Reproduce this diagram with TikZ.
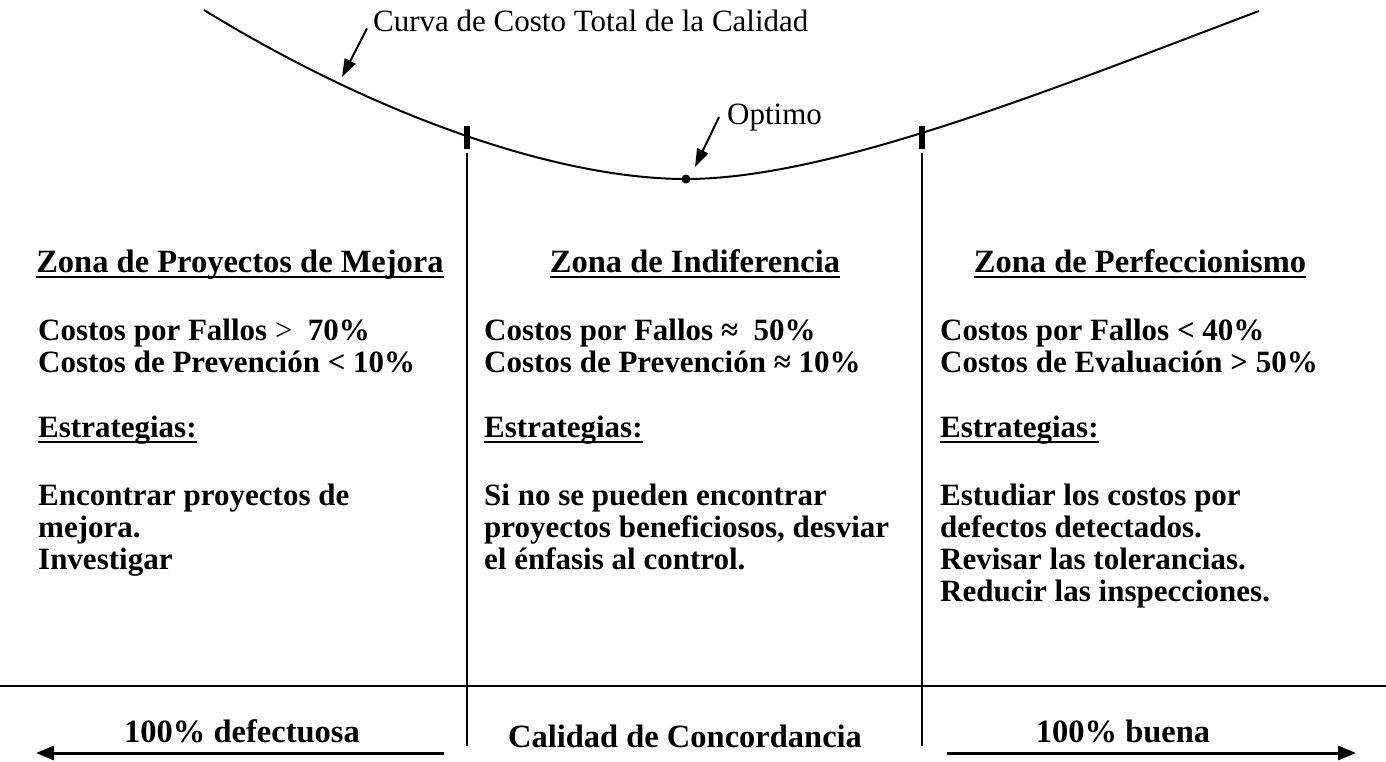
\documentclass[tikz,border=0pt]{standalone}
\usepackage{fontspec}
\setmainfont{Liberation Serif}
\usetikzlibrary{arrows.meta}

\tikzset{
  zonetext/.style={font=\fontsize{31}{33}\selectfont\bfseries, inner sep=0pt, anchor=base west},
  zonehead/.style={font=\fontsize{32.5}{34}\selectfont\bfseries, inner sep=0pt, anchor=base},
  curvelabel/.style={font=\fontsize{31}{33}\selectfont, inner sep=0pt, anchor=base west},
  pointer/.style={line width=2pt, -{Triangle[length=18pt,width=12pt]}},
  axisarrow/.style={line width=3pt, -{Triangle[length=18pt,width=14pt]}},
  zonetick/.style={line width=6pt},
  zoneline/.style={line width=2.5pt},
}

\begin{document}
\begin{tikzpicture}[x=1pt,y=-1pt]
\pgfmathsetmacro{\XL}{38}
\pgfmathsetmacro{\XM}{484}
\pgfmathsetmacro{\XR}{940}
\pgfmathsetmacro{\LS}{32}
\useasboundingbox (0,0) rectangle (1386,761);

\draw[line width=2pt] (204,10) .. controls (380,118) and (560,179) .. (686,179)
  .. controls (830,179) and (1050,90) .. (1259,11);
\fill (686,179) circle (4.5);

\coordinate (curvept) at (342,77);
\coordinate (optpt) at (695,167);
\node[curvelabel] (curvelbl) at (373,31) {Curva de Costo Total de la Calidad};
\node[curvelabel] (optlbl) at (727,124) {Optimo};
\draw[pointer] (curvelbl.west) ++(-6,8) coordinate (curvestart) (curvestart) -- (curvept);
\draw[pointer] (optlbl.west) ++(-8,0) coordinate (optstart) (optstart) -- (optpt);

\foreach \x in {467,922} {
  \draw[zonetick] (\x,126) -- (\x,149);
  \draw[line width=1.5pt] (\x,153) -- (\x,746);
}
\draw[line width=1.5pt] (0,686) -- (1386,686);

\node[zonehead] (lefthead) at (240,272) {Zona de Proyectos de Mejora};
\node[zonehead] (midhead) at (695,272) {Zona de Indiferencia};
\node[zonehead] (righthead) at (1140,272) {Zona de Perfeccionismo};

\node[zonetext] (leftcost1) at (\XL,340) {Costos por Fallos {\mdseries >}\ \ 70\%};
\node[zonetext] (leftcost2) at (\XL,340+\LS) {Costos de Prevención < 10\%};
\node[zonetext] (midcost1) at (\XM,340) {Costos por Fallos ≈\ \ 50\%};
\node[zonetext] (midcost2) at (\XM,340+\LS) {Costos de Prevención ≈ 10\%};
\node[zonetext] (rightcost1) at (\XR,340) {Costos por Fallos < 40\%};
\node[zonetext] (rightcost2) at (\XR,340+\LS) {Costos de Evaluación > 50\%};

\node[zonetext] (leftest) at (\XL,437) {Estrategias:};
\node[zonetext] (midest) at (\XM,437) {Estrategias:};
\node[zonetext] (rightest) at (\XR,437) {Estrategias:};

\foreach \n in {lefthead,midhead,righthead,leftest,midest,rightest}
  \draw[zoneline] ([yshift=-5pt]\n.base west) -- ([yshift=-5pt]\n.base east);

\foreach \txt [count=\i] in {{Encontrar proyectos de},{mejora.},{Investigar}}
  \node[zonetext] (leftstr\i) at (\XL,505+\LS*\i-\LS) {\txt};
\foreach \txt [count=\i] in {{Si no se pueden encontrar},{proyectos beneficiosos, desviar},{el énfasis al control.}}
  \node[zonetext] (midstr\i) at (\XM,505+\LS*\i-\LS) {\txt};
\foreach \txt [count=\i] in {{Estudiar los costos por},{defectos detectados.},{Revisar las tolerancias.},{Reducir las inspecciones.}}
  \node[zonetext] (rightstr\i) at (\XR,505+\LS*\i-\LS) {\txt};

\node[zonehead] (defect) at (242,742) {100\% defectuosa};
\node[zonehead] (concord) at (685,747) {Calidad de Concordancia};
\node[zonehead] (good) at (1123,742) {100\% buena};

\coordinate (defR) at (444,753);
\coordinate (defL) at (36,753);
\coordinate (goodL) at (947,753);
\coordinate (goodR) at (1356,753);
\draw[axisarrow] (defR) -- (defL);
\draw[axisarrow] (goodL) -- (goodR);
\end{tikzpicture}
\end{document}
